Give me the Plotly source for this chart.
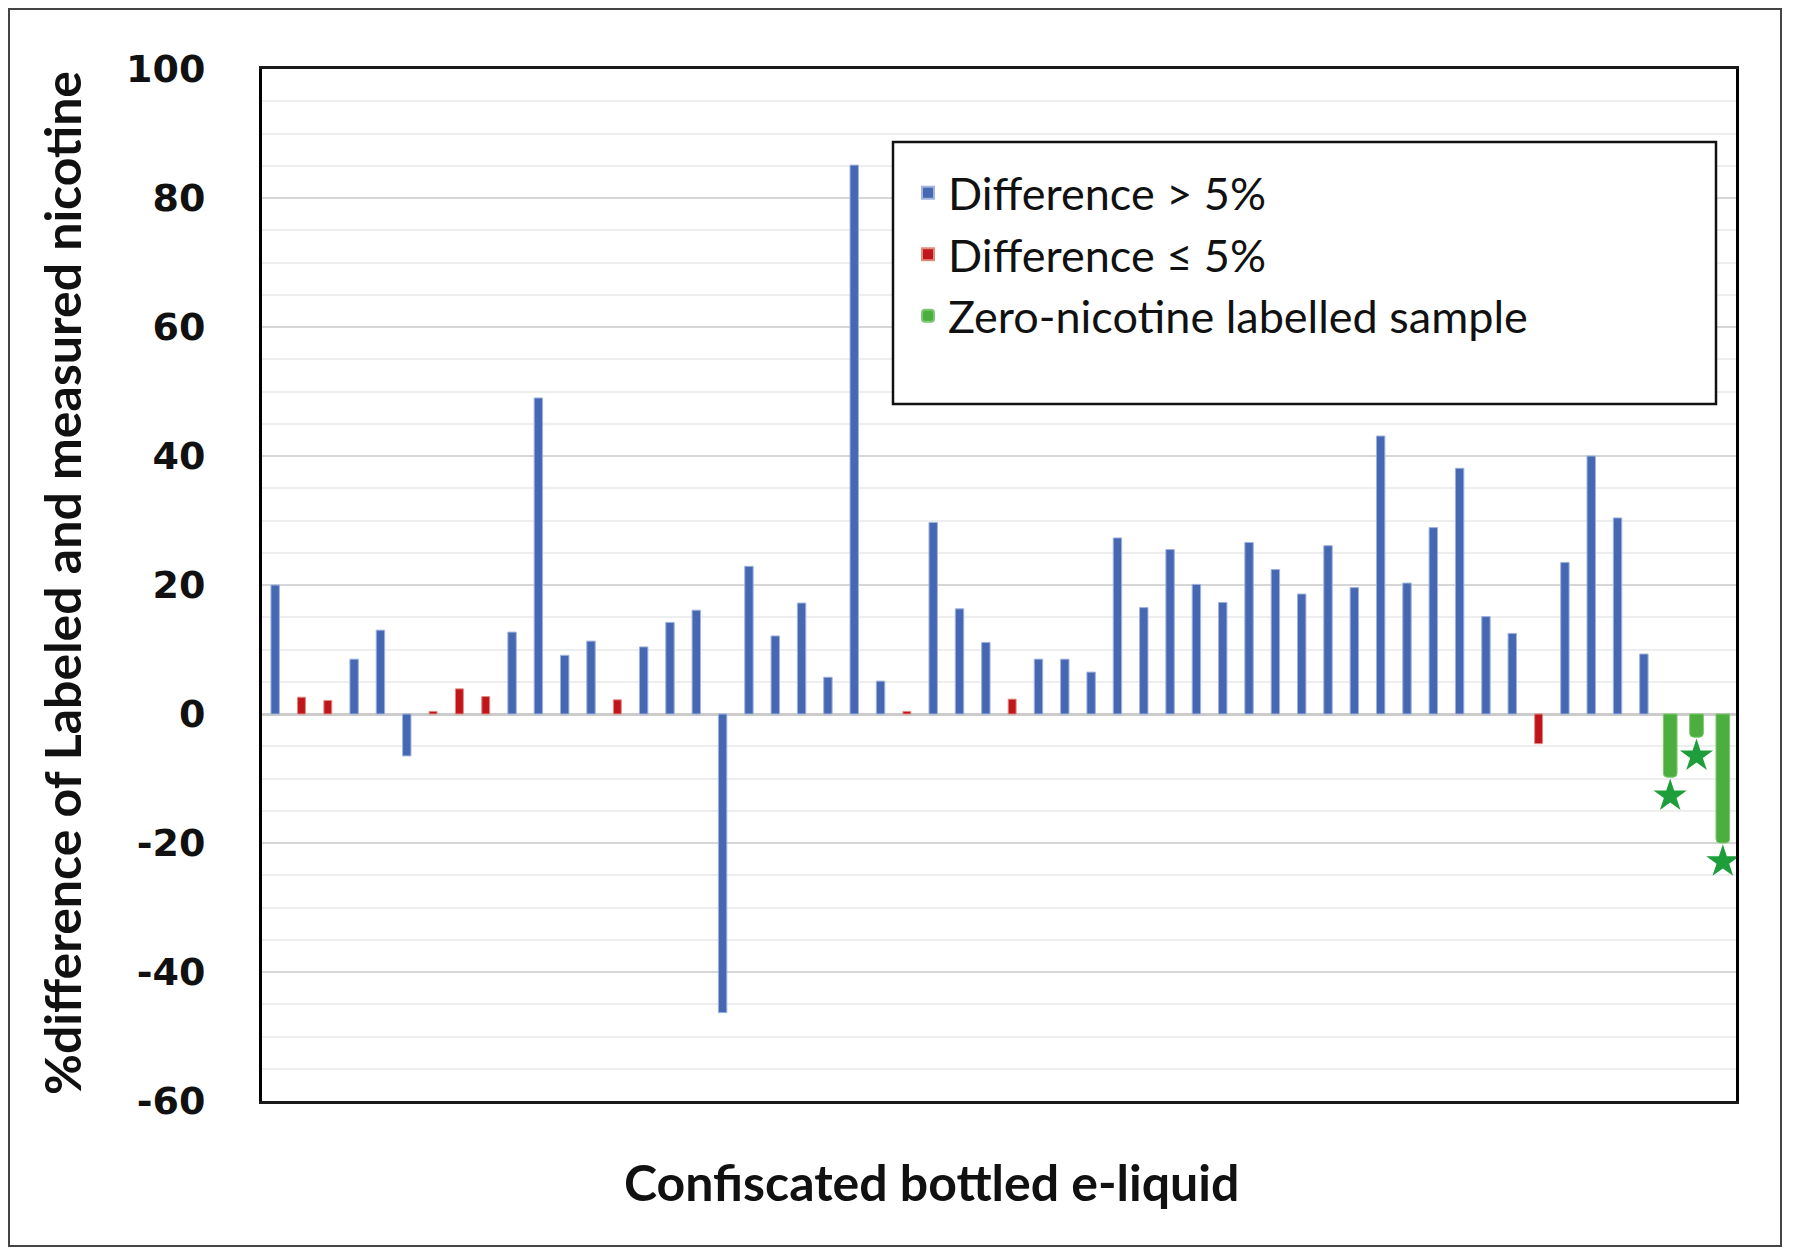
import plotly.graph_objects as go

# ---------------- data ----------------
samples = list(range(1, 57))
pct_diff = [20.0, 2.6, 2.1, 8.5, 13.0, -6.5, 0.4, 3.9, 2.7, 12.7,
            49.0, 9.1, 11.3, 2.2, 10.4, 14.2, 16.1, -46.3, 22.9, 12.1,
            17.2, 5.7, 85.1, 5.1, 0.4, 29.7, 16.3, 11.1, 2.3, 8.5,
            8.5, 6.5, 27.3, 16.5, 25.5, 20.1, 17.3, 26.6, 22.4, 18.6,
            26.1, 19.6, 43.1, 20.3, 28.9, 38.1, 15.1, 12.5, -4.6, 23.5,
            40.0, 30.4, 9.3, -9.8, -3.6, -20.0]
group = ["B", "R", "R", "B", "B", "B", "R", "R", "R", "B",
         "B", "B", "B", "R", "B", "B", "B", "B", "B", "B",
         "B", "B", "B", "B", "R", "B", "B", "B", "R", "B",
         "B", "B", "B", "B", "B", "B", "B", "B", "B", "B",
         "B", "B", "B", "B", "B", "B", "B", "B", "R", "B",
         "B", "B", "B", "G", "G", "G"]
group_codes = ["B", "R", "G"]
group_names = ["Difference > 5%", "Difference \u2264 5%", "Zero-nicotine labelled sample"]
y_ticks = [-60, -40, -20, 0, 20, 40, 60, 80, 100]
y_ticktext = ["-60", "-40", "-20", "0", "20", "40", "60", "80", "100"]
x_title = "Confiscated bottled e-liquid"
y_title = "%difference of Labeled and measured nicotine"

# ---------------- style ----------------
colors = {"B": "#4668B2", "R": "#C0161B", "G": "#4DAE40"}
edge = {"B": "#9fb3de", "R": "#e08a80", "G": "#7cc870"}
widths = {"B": 0.32, "R": 0.30, "G": 0.52}
star_color = "#1E9E3A"
star_offset = 2.9

OFF = 8  # page offset of the figure inside the browser window
W, H = 1800 - OFF, 1254 - OFF
L, T = 262 - OFF, 69 - OFF
R = W - (1736 - OFF)
B = H - (1101 - OFF)
pw, ph = W - L - R, H - T - B


def px_x(px):
    return (px - OFF - L) / pw


def px_y(py):
    return (H - B - (py - OFF)) / ph


fig = go.Figure()
for code, name in zip(group_codes, group_names):
    xs = [s for s, g in zip(samples, group) if g == code]
    ys = [v for v, g in zip(pct_diff, group) if g == code]
    fig.add_trace(go.Bar(
        x=xs, y=ys, name=name, width=widths[code],
        marker=dict(color=colors[code], line=dict(color=edge[code], width=1),
                    cornerradius=4 if code == "G" else 0),
    ))

# stars below zero-nicotine samples
gx = [s for s, g in zip(samples, group) if g == "G"]
gy = [v - star_offset for v, g in zip(pct_diff, group) if g == "G"]
fig.add_trace(go.Scatter(
    x=gx, y=gy, mode="markers", showlegend=False, hoverinfo="skip",
    marker=dict(symbol="star", size=25, color=star_color, line=dict(width=0)),
))

fig.update_layout(
    width=W, height=H, autosize=False,
    margin=dict(l=L, r=R, t=T, b=B),
    paper_bgcolor="white", plot_bgcolor="white",
    barmode="overlay",
    showlegend=True,
    legend=dict(
        x=px_x(908), y=px_y(157), xanchor="left", yanchor="top",
        bgcolor="rgba(0,0,0,0)", borderwidth=0,
        font=dict(family="Lato", size=45, color="#111111"),
        itemsizing="constant", tracegroupgap=0,
    ),
)

fig.update_xaxes(
    range=[0.5, len(samples) + 0.5], showticklabels=False, ticks="",
    showgrid=False, zeroline=False,
    showline=True, mirror=True, linecolor="#1a1a1a", linewidth=2.5,
)
fig.update_yaxes(
    range=[-60, 100], tickvals=y_ticks, ticktext=y_ticktext, ticks="",
    tickfont=dict(family="DejaVu Sans", size=38, color="#111111", weight="bold"),
    ticklabelstandoff=46,
    showgrid=True, gridcolor="#d6d6d6", gridwidth=2,
    minor=dict(dtick=5, showgrid=True, gridcolor="#eeeeee", gridwidth=1.5, ticks=""),
    zeroline=True, zerolinecolor="#cccccc", zerolinewidth=2.5,
    showline=True, mirror=True, linecolor="#000000", linewidth=3,
)

# titles
fig.add_annotation(
    text=x_title, xref="paper", yref="paper", x=px_x(931), y=px_y(1182),
    xanchor="center", yanchor="middle", showarrow=False,
    font=dict(family="Lato", size=50, color="#111111", weight="bold"),
)
fig.add_annotation(
    text=y_title, xref="paper", yref="paper", x=px_x(62), y=px_y(583),
    xanchor="center", yanchor="middle", showarrow=False, textangle=-90,
    font=dict(family="Lato", size=50, color="#111111", weight="bold"),
)

# legend frame
fig.add_shape(type="rect", xref="paper", yref="paper",
              x0=px_x(893), x1=px_x(1716), y0=px_y(404), y1=px_y(142),
              line=dict(color="#111111", width=2.5), fillcolor="white", layer="above")
# outer frame
fig.add_shape(type="rect", xref="paper", yref="paper",
              x0=px_x(9), x1=px_x(1781), y0=px_y(1246), y1=px_y(9),
              line=dict(color="#444444", width=2), layer="above")

fig.write_html("out.html")
